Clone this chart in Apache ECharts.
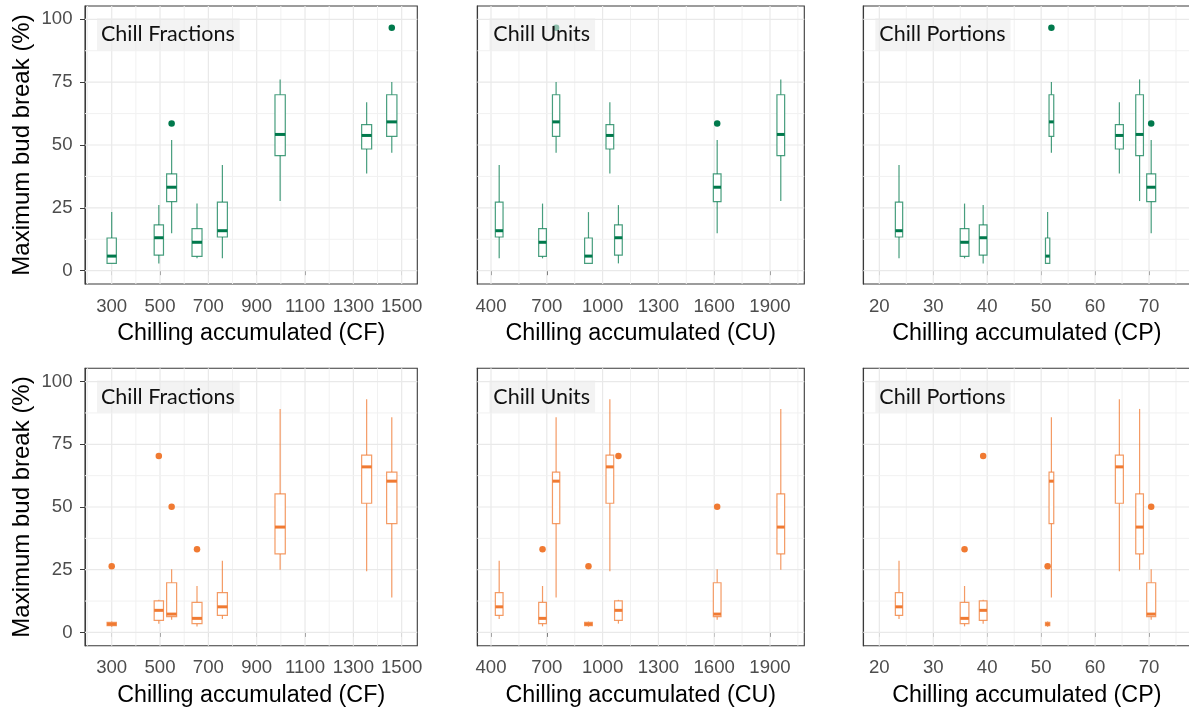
<!DOCTYPE html>
<html>
<head>
<meta charset="utf-8">
<script src="https://cdn.jsdelivr.net/npm/echarts@6/dist/echarts.min.js"></script>
<style>
  html, body { margin: 0; padding: 0; background: #ffffff; }
  #chart { width: 1189px; height: 708px; }
</style>
</head>
<body>
<div id="chart"></div>
<script>
// ---- Chill models (one column each) ----
const models = ['CF', 'CU', 'CP'];
const panelLabels = ['Chill Fractions', 'Chill Units', 'Chill Portions'];

// Chilling accumulated at each of the eight sampling groups, per model
const chillCF = [300, 495, 548, 653, 758, 997, 1355, 1459];
const chillCU = [924, 1085, 1616, 677, 444, 1958, 1039, 750];
const chillCP = [51.2, 39.25, 70.4, 35.8, 23.65, 68.25, 64.5, 51.9];

// Axis breaks (labelled and unlabelled grid lines)
const ticksCF = [300, 500, 700, 900, 1100, 1300, 1500];
const minorCF = [200, 400, 600, 800, 1000, 1200, 1400];
const ticksCU = [400, 700, 1000, 1300, 1600, 1900];
const minorCU = [550, 850, 1150, 1450, 1750, 2050];
const ticksCP = [20, 30, 40, 50, 60, 70];
const minorCP = [25, 35, 45, 55, 65, 75];
const ticksY = [0, 25, 50, 75, 100];
const minorY = [12.5, 37.5, 62.5, 87.5];

// Maximum bud break (%) box statistics, upper row (green)
const row1Lower = [2.9, 2.9, 14.9, 4.9, 4.9, 27.7, 38.7, 46.9];
const row1Q1 = [2.9, 6.2, 27.5, 5.7, 13.4, 45.8, 48.4, 53.4];
const row1Median = [5.8, 13.1, 33.2, 11.3, 15.9, 54.2, 53.8, 59.2];
const row1Q3 = [13.0, 18.2, 38.5, 16.7, 27.3, 70.0, 58.1, 70.0];
const row1Upper = [23.3, 26.1, 52.0, 26.7, 42.0, 76.1, 67.0, 75.1];
const row1Outlier = [null, null, 58.6, null, null, null, null, 96.6];

// Maximum bud break (%) box statistics, lower row (orange)
const row2Lower = [2.3, 3.5, 5.0, 2.4, 5.3, 25.0, 24.4, 13.9];
const row2Q1 = [2.7, 4.8, 6.3, 3.5, 6.8, 31.3, 51.5, 43.4];
const row2Median = [3.3, 8.8, 7.3, 5.6, 10.2, 42.0, 66.0, 60.3];
const row2Q3 = [4.0, 12.6, 19.8, 12.0, 15.9, 55.2, 70.7, 63.9];
const row2Upper = [4.3, 13.0, 25.2, 18.5, 28.6, 89.1, 93.0, 85.8];
const row2Outlier = [26.4, 70.3, 50.1, 33.2, null, null, null, null];

// ---- Layout and style ----
const colLeft = [85, 477.3, 863.3];
const colWidth = [332.3, 327, 327];
const rowTop = [6, 368.3];
const rowHeight = [278, 277.4];
const xRange = [[189.5, 1564.6], [326.3, 2084.4], [17.03, 77.65]];
const yRange = [-5.3, 105.3];
const boxWidthPx = [
  [9.3, 9.3, 10, 10, 10, 10.3, 10, 10.3],
  [7.7, 7.7, 7.7, 7.7, 7.7, 7.7, 7.7, 7.3],
  [4.3, 7.7, 9, 8.7, 7.3, 7.7, 8, 4.7]
];
const rowColors = [
  { solid: '#00794c', line: 'rgba(0,121,76,0.72)' },
  { solid: '#f07a32', line: 'rgba(240,122,50,0.75)' }
];

const chillByModel = [chillCF, chillCU, chillCP];
const ticksByModel = [ticksCF, ticksCU, ticksCP];
const minorByModel = [minorCF, minorCU, minorCP];
const rows = [
  { lower: row1Lower, q1: row1Q1, median: row1Median, q3: row1Q3, upper: row1Upper, outlier: row1Outlier },
  { lower: row2Lower, q1: row2Q1, median: row2Median, q3: row2Q3, upper: row2Upper, outlier: row2Outlier }
];

const tickFont = { fontFamily: 'Liberation Sans', fontSize: 18.6, color: '#4d4d4d' };
const plainNumber = v => String(v);

const grid = [], xAxis = [], yAxis = [], series = [], title = [];

for (let r = 0; r < 2; r++) {
  for (let c = 0; c < 3; c++) {
    const idx = r * 3 + c;
    grid.push({
      left: colLeft[c], top: rowTop[r], width: colWidth[c], height: rowHeight[r],
      show: true, borderColor: '#3a3a3a', borderWidth: 1.1, backgroundColor: '#ffffff',
      containLabel: false, outerBoundsMode: 'none'
    });
    xAxis.push({
      type: 'value', gridIndex: idx, min: xRange[c][0], max: xRange[c][1],
      name: 'Chilling accumulated (' + models[c] + ')',
      nameLocation: 'middle', nameGap: 38,
      nameTextStyle: { fontFamily: 'Liberation Sans', fontSize: 23.3, color: '#000000' },
      axisLine: { show: true, lineStyle: { color: '#3a3a3a', width: 1.1 } },
      axisTick: { show: true, length: 4.5, customValues: ticksByModel[c], lineStyle: { color: '#3a3a3a', width: 1 } },
      axisLabel: Object.assign({ show: true, margin: 13, customValues: ticksByModel[c], formatter: plainNumber }, tickFont),
      splitLine: { show: false }
    });
    yAxis.push({
      type: 'value', gridIndex: idx, min: yRange[0], max: yRange[1],
      name: c === 0 ? 'Maximum bud break (%)' : '',
      nameLocation: 'middle', nameGap: 51, nameRotate: 90,
      nameTextStyle: { fontFamily: 'Liberation Sans', fontSize: 24, color: '#000000' },
      axisLine: { show: true, lineStyle: { color: '#3a3a3a', width: 1.1 } },
      axisTick: { show: c === 0, length: 5, customValues: ticksY, lineStyle: { color: '#3a3a3a', width: 1 } },
      axisLabel: Object.assign({ show: c === 0, margin: 12.5, customValues: ticksY, formatter: plainNumber }, tickFont),
      splitLine: { show: false }
    });

    // panel grid lines
    const lines = [];
    ticksByModel[c].forEach(v => lines.push([v, yRange[0], 0, 1]));
    minorByModel[c].forEach(v => lines.push([v, yRange[0], 0, 0]));
    ticksY.forEach(v => lines.push([xRange[c][0], v, 1, 1]));
    minorY.forEach(v => lines.push([xRange[c][0], v, 1, 0]));
    series.push({
      type: 'custom', xAxisIndex: idx, yAxisIndex: idx, z: 1, silent: true,
      data: lines,
      renderItem: function (params, api) {
        const cs = params.coordSys;
        const p = api.coord([api.value(0), api.value(1)]);
        const major = api.value(3) === 1;
        const style = { stroke: major ? '#e9e9e9' : '#f1f1f1', lineWidth: major ? 1.2 : 1 };
        if (api.value(2) === 0) {
          return { type: 'line', shape: { x1: p[0], y1: cs.y, x2: p[0], y2: cs.y + cs.height }, style };
        }
        return { type: 'line', shape: { x1: cs.x, y1: p[1], x2: cs.x + cs.width, y2: p[1] }, style };
      }
    });

    // boxes
    const rd = rows[r];
    const xs = chillByModel[c];
    const widths = boxWidthPx[c];
    const col = rowColors[r];
    const boxData = xs.map((x, i) => [x, rd.lower[i], rd.q1[i], rd.median[i], rd.q3[i], rd.upper[i]]);
    series.push({
      type: 'custom', xAxisIndex: idx, yAxisIndex: idx, z: 2, silent: true,
      encode: { x: 0, y: [1, 2, 3, 4, 5] },
      data: boxData,
      renderItem: function (params, api) {
        const x = api.value(0);
        const half = widths[params.dataIndex] / 2;
        const lo = api.coord([x, api.value(1)]);
        const q1 = api.coord([x, api.value(2)]);
        const med = api.coord([x, api.value(3)]);
        const q3 = api.coord([x, api.value(4)]);
        const hi = api.coord([x, api.value(5)]);
        const cx = med[0];
        const ls = { stroke: col.line, lineWidth: 1.2, fill: null };
        return {
          type: 'group',
          children: [
            { type: 'line', shape: { x1: cx, y1: q3[1], x2: cx, y2: hi[1] }, style: ls },
            { type: 'line', shape: { x1: cx, y1: q1[1], x2: cx, y2: lo[1] }, style: ls },
            { type: 'rect', shape: { x: cx - half, y: q3[1], width: 2 * half, height: q1[1] - q3[1] },
              style: { fill: '#ffffff', stroke: col.line, lineWidth: 1.2 } },
            { type: 'line', shape: { x1: cx - half, y1: med[1], x2: cx + half, y2: med[1] },
              style: { stroke: col.solid, lineWidth: 3 } }
          ]
        };
      }
    });

    // outliers
    const pts = [];
    xs.forEach((x, i) => { if (rd.outlier[i] !== null) pts.push([x, rd.outlier[i]]); });
    series.push({
      type: 'scatter', xAxisIndex: idx, yAxisIndex: idx, z: 3, silent: true,
      symbol: 'circle', symbolSize: 6.5,
      itemStyle: { color: col.solid, opacity: 1 },
      data: pts
    });

    // facet label
    title.push({
      text: panelLabels[c],
      left: colLeft[c] + 12, top: rowTop[r] + 12.3,
      backgroundColor: 'rgba(235,235,235,0.6)',
      padding: [5, 5, 5, 4],
      textStyle: { fontFamily: 'Lato', fontSize: 21.5, fontWeight: 'normal', color: '#111111' },
      z: 10
    });
  }
}

const chart = echarts.init(document.getElementById('chart'), null, { renderer: 'canvas' });
chart.setOption({
  animation: false,
  backgroundColor: '#ffffff',
  title, grid, xAxis, yAxis, series
});
</script>
</body>
</html>
